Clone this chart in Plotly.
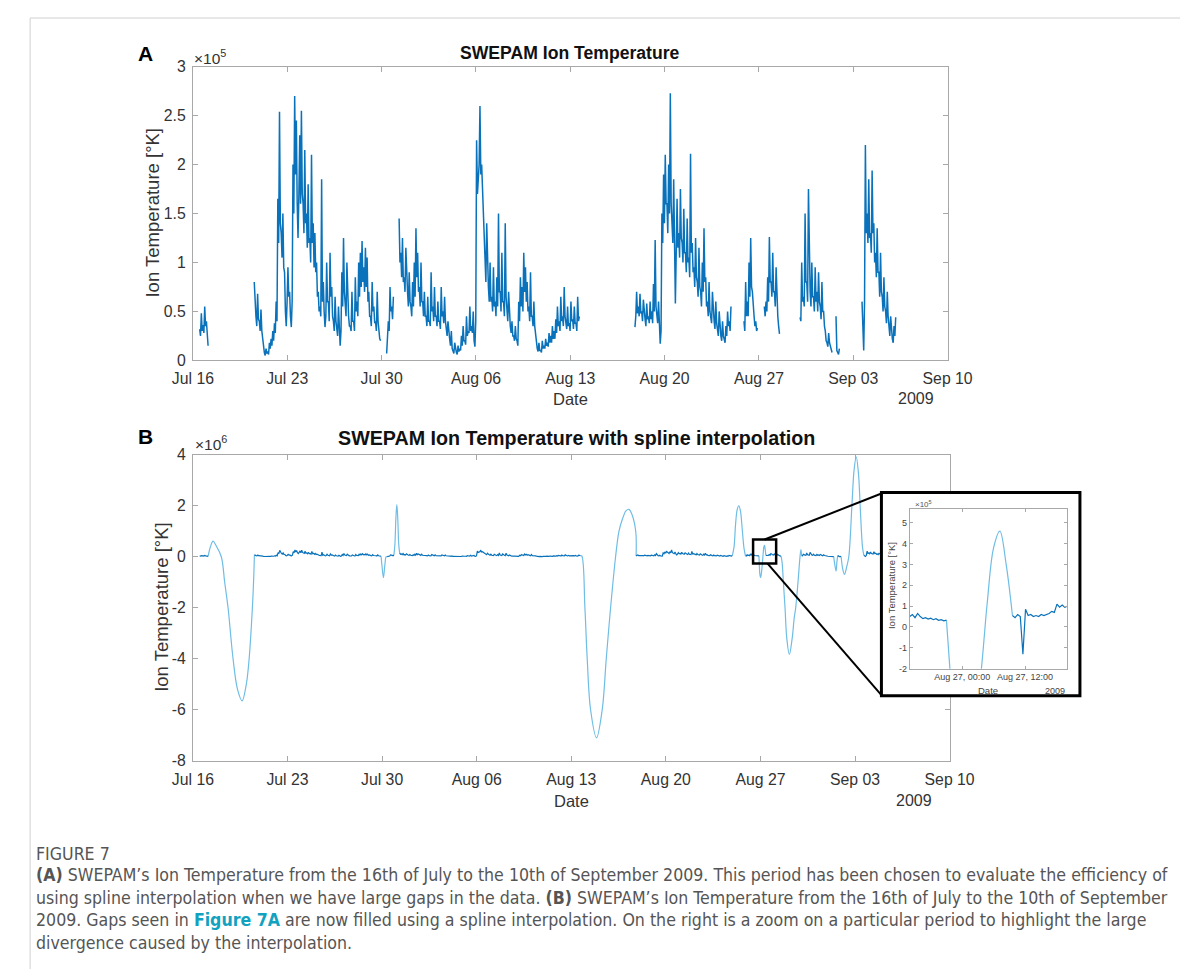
import datetime as dt
import plotly.graph_objects as go

# ---------------- data ----------------
# Time in days after 2009-07-16 00:00. Each 3-h sample has the top of the noisy
# band (hi) and its bottom (lo, read 1.5 h later).
STEP_DAYS = 0.125

# Ion temperature, thousands of K
seg1_start = 0.5
seg1_hi = [32, 48, 36, 55, 40, 15]
seg1_lo = [25, 30, 28, 35, 22, 12]

seg2_start = 4.55
seg2_hi = [80, 45, 68, 40,
           52, 22, 8, 12, 9, 18, 22, 30,
           38, 60, 165, 254, 130, 150, 90, 35,
           95, 70, 34, 200, 270, 245, 125, 230,
           255, 160, 215, 150, 180, 125, 210, 140,
           130, 100, 70, 55, 185, 80, 34, 100,
           60, 110, 75, 40, 65, 30, 55, 15,
           90, 125, 60, 100, 45, 35, 70, 40,
           85, 60, 100, 110, 122, 95, 115, 105,
           70, 45, 80, 55, 40, 70, 30, 20]
seg2_lo = [50, 35, 42, 30,
           30, 10, 5, 7, 6, 12, 15, 20,
           28, 40, 120, 140, 105, 95, 50, 60,
           65, 45, 60, 150, 190, 160, 170, 160,
           170, 130, 140, 115, 120, 100, 120, 95,
           90, 65, 50, 45, 60, 50, 45, 60,
           40, 65, 45, 30, 40, 25, 30, 30,
           55, 70, 45, 55, 35, 30, 40, 30,
           50, 45, 65, 75, 80, 70, 75, 60,
           45, 35, 50, 38, 30, 40, 22, 18]

seg3_start = 14.375
seg3_hi = [7, 40, 75, 55, 65]
seg3_lo = [20, 30, 50, 42, 45]

seg4_start = 15.3
seg4_hi = [145, 110, 125, 85, 115, 70, 90, 55, 80, 100,
           135, 110, 75, 100, 60, 70, 45, 65, 40, 90,
           55, 75, 45, 60, 40, 75, 50, 65, 30, 40,
           22, 30, 10, 18, 8, 15, 12, 25, 35, 20,
           45, 30, 55, 35, 50, 14, 225, 185, 260, 200,
           160, 110, 140, 75, 100, 65, 95, 60, 85, 150,
           70, 110, 60, 140, 55, 70, 35, 40, 25, 35,
           20, 60, 85, 75, 110, 95, 80, 55, 90, 45,
           60, 25, 12, 18, 10, 20, 15, 22, 18, 28,
           25, 35, 30, 42, 55, 40, 65, 45, 75, 40,
           55, 38, 60, 42, 55, 38, 65, 45]
seg4_lo = [100, 85, 80, 70, 75, 55, 60, 45, 55, 65,
           85, 70, 55, 60, 45, 45, 35, 40, 35, 50,
           40, 45, 35, 40, 32, 45, 38, 40, 25, 28,
           15, 12, 7, 9, 6, 9, 10, 15, 20, 16,
           25, 28, 30, 28, 20, 40, 170, 200, 190, 175,
           120, 80, 85, 60, 60, 50, 55, 45, 55, 70,
           50, 60, 45, 65, 40, 40, 28, 25, 20, 22,
           15, 40, 55, 50, 70, 60, 50, 40, 45, 35,
           35, 15, 9, 10, 8, 12, 12, 15, 14, 18,
           18, 22, 22, 28, 35, 30, 40, 35, 45, 32,
           35, 30, 40, 32, 38, 30, 40, 33]

seg5_start = 32.8
seg5_hi = [34, 70, 55, 68, 50, 62, 42, 58, 45, 60,
           50, 78, 123, 45, 60, 17, 150, 190, 210, 160,
           200, 273, 145, 185, 58, 165, 130, 175, 120, 155,
           110, 145, 105, 211, 120, 95, 125, 80, 115, 70,
           100, 135, 85, 60, 80, 45, 70, 40, 60, 30,
           50, 25, 40, 20, 35, 50, 40, 55]
seg5_lo = [45, 48, 45, 48, 40, 45, 35, 42, 38, 42,
           38, 50, 55, 38, 35, 30, 120, 140, 160, 130,
           150, 160, 120, 130, 110, 115, 105, 125, 100, 110,
           90, 100, 85, 110, 90, 75, 85, 65, 75, 55,
           70, 80, 55, 45, 50, 38, 45, 32, 38, 25,
           30, 20, 25, 18, 25, 35, 30, 40]

seg6_start = 40.89
seg6_hi = [40, 80, 60, 100, 125, 70, 45, 40, 33]
seg6_lo = [30, 45, 45, 65, 75, 50, 35, 30, 30]

seg7_start = 42.4
seg7_hi = [55, 60, 85, 126, 80, 110, 70, 95, 45, 27]
seg7_lo = [45, 50, 60, 80, 65, 70, 55, 60, 35, 25]

seg8_start = 45.05
seg8_hi = [44, 100, 65, 150, 80, 175, 70, 100, 65, 95,
           70, 90, 55, 80, 50, 30, 18, 28, 15, 8]
seg8_lo = [40, 60, 55, 80, 60, 85, 55, 65, 50, 60,
           50, 60, 42, 50, 35, 20, 14, 18, 10, 6]

seg8b_start = 47.72
seg8b_hi = [45, 8, 12]
seg8b_lo = [10, 6, 8]

seg9_start = 49.65
seg9_hi = [60, 10, 220, 150, 185, 130, 194, 140, 110, 135,
           90, 110, 65, 85, 50, 70, 30, 45, 22, 35, 44]
seg9_lo = [15, 60, 130, 120, 125, 110, 130, 100, 85, 90,
           65, 70, 50, 55, 38, 45, 25, 28, 18, 25, 30]

# Spline-filled gaps (panel B), interior knots: day, value in millions of K
gap_a_days = [1.3, 1.49, 1.7, 2.1, 2.35, 2.6, 2.97, 3.3, 3.64, 3.95, 4.16, 4.4, 4.5]
gap_a_MK = [0.4, 0.61, 0.45, 0.0, -1.0, -2.0, -4.0, -5.2, -5.65, -5.0, -4.0, -2.0, -0.8]
gap_b_days = [14.0, 14.1, 14.2, 14.3]
gap_b_MK = [-0.4, -0.82, -0.35, 0.0]
gap_c_days = [14.95, 15.02, 15.09, 15.16, 15.23]
gap_c_MK = [0.5, 1.5, 2.05, 1.5, 0.5]
gap_d_days = [28.78, 29.01, 29.18, 29.43, 29.87, 30.29, 30.59, 30.91, 31.28, 31.53,
              31.8, 32.05, 32.27, 32.5, 32.77]
gap_d_MK = [0.03, -2.0, -4.0, -6.0, -7.1, -6.0, -4.0, -2.0, 0.0, 1.0,
            1.5, 1.8, 1.86, 1.65, 1.0]
gap_e_days = [40.05, 40.15, 40.28, 40.4, 40.52, 40.65, 40.78]
gap_e_MK = [0.4, 1.2, 1.85, 2.0, 1.8, 1.1, 0.35]
gap_f_days = [41.92, 41.96, 42.01, 42.07, 42.153, 42.2, 42.25, 42.3, 42.35]
gap_f_MK = [-0.35, -0.7, -0.82, -0.65, -0.2, 0.12, 0.38, 0.46, 0.3]
gap_g_days = [43.6, 43.7, 43.82, 43.95, 44.14, 44.35, 44.5, 44.61, 44.78, 44.93, 45.0]
gap_g_MK = [-0.2, -1.0, -2.0, -3.2, -3.83, -3.2, -2.4, -2.0, -1.0, 0.0, 0.28]
gap_h_days = [47.5, 47.6, 47.66]
gap_h_MK = [-0.3, -0.56, -0.2]
gap_i_days = [48.1, 48.22, 48.38, 48.54, 48.77, 48.93, 49.09, 49.25, 49.4, 49.55]
gap_i_MK = [-0.5, -0.69, -0.4, 0.0, 2.0, 3.4, 3.92, 3.3, 1.8, 0.4]

# Inset (zoom on 26-27 Aug), 30-min samples, in 1e5 K
INSET_STEP = 1 / 48
inset_left_start = 41.5833
inset_left_e5 = [0.5, 0.6, 0.45, 0.65, 0.5, 0.4, 0.45, 0.38, 0.42, 0.35, 0.4, 0.32, 0.35, 0.3, 0.33]
inset_right_start = 42.4
inset_right_e5 = [0.55, 0.45, 0.6, 0.5, -1.3, 0.85, 0.55, 0.6, 0.5, 0.55, 0.5,
                  0.6, 0.55, 0.6, 0.65, 0.75, 0.7, 1.1, 0.95, 1.05, 0.95, 1.0]

week_ticks = ["2009-07-16", "2009-07-23", "2009-07-30", "2009-08-06", "2009-08-13",
              "2009-08-20", "2009-08-27", "2009-09-03", "2009-09-10"]
week_labels = ["Jul 16", "Jul 23", "Jul 30", "Aug 06", "Aug 13", "Aug 20", "Aug 27", "Sep 03", "Sep 10"]
top_yticks = [0, 0.5, 1, 1.5, 2, 2.5, 3]          # x 1e5
bot_yticks = [-8, -6, -4, -2, 0, 2, 4]            # x 1e6
inset_yticks = [-2, -1, 0, 1, 2, 3, 4, 5]         # x 1e5
inset_xticks = ["2009-08-27 00:00", "2009-08-27 12:00"]
inset_xlabels = ["Aug 27, 00:00", "Aug 27, 12:00"]

# ---------------- helpers ----------------
BASE = dt.datetime(2009, 7, 16)
W, H = 1197, 970
# where the figure paper lands in the photographed page (measured), plus a small correction
PX0, PW = 22.8 + 7.0, 1148.0
PY0, PH = 8.0 + 8.0, 952.0


def to_dt(d):
    return BASE + dt.timedelta(days=d)


def fx(px):
    return (px - PX0) / PW


def fy(py):
    return 1 - (py - PY0) / PH


SEGMENTS = [(seg1_start, seg1_hi, seg1_lo), (seg2_start, seg2_hi, seg2_lo),
            (seg3_start, seg3_hi, seg3_lo), (seg4_start, seg4_hi, seg4_lo),
            (seg5_start, seg5_hi, seg5_lo), (seg6_start, seg6_hi, seg6_lo),
            (seg7_start, seg7_hi, seg7_lo), (seg8_start, seg8_hi, seg8_lo),
            (seg8b_start, seg8b_hi, seg8b_lo), (seg9_start, seg9_hi, seg9_lo)]
GAPS = [(gap_a_days, gap_a_MK), (gap_b_days, gap_b_MK), (gap_c_days, gap_c_MK),
        (gap_d_days, gap_d_MK), (gap_e_days, gap_e_MK), (gap_f_days, gap_f_MK),
        (gap_g_days, gap_g_MK), (gap_h_days, gap_h_MK), (gap_i_days, gap_i_MK)]

data_x, data_y = [], []
seg_ends = []
for start, hi, lo in SEGMENTS:
    days, vals = [], []
    for i in range(len(hi)):
        days += [start + i * STEP_DAYS]
        vals += [hi[i]]
        if i < len(hi) - 1:
            days += [start + (i + 0.5) * STEP_DAYS]
            vals += [lo[i]]
    data_x += [to_dt(d) for d in days] + [None]
    data_y += [v * 1e3 for v in vals] + [None]
    seg_ends.append(((days[0], vals[0] * 1e3), (days[-1], vals[-1] * 1e3)))

spl_x, spl_y = [], []
for k, (gd, gv) in enumerate(GAPS):
    (d0, v0) = seg_ends[k][1]
    (d1, v1) = seg_ends[k + 1][0]
    xs = [d0] + list(gd) + [d1]
    ys = [v0] + [v * 1e6 for v in gv] + [v1]
    spl_x += [to_dt(d) for d in xs] + [None]
    spl_y += ys + [None]

BLUE = "#0A72BA"
LIGHT = "#6FBDE5"
FONT = "Liberation Sans, Arial, sans-serif"
TICKC = "#333333"
AXC = "#A8A8A8"

fig = go.Figure()

# panel A
fig.add_trace(go.Scatter(x=data_x, y=data_y, mode="lines", line=dict(color=BLUE, width=1.5),
                         connectgaps=False, xaxis="x", yaxis="y", hoverinfo="skip"))
# panel B
fig.add_trace(go.Scatter(x=spl_x, y=spl_y, mode="lines", line=dict(color=LIGHT, width=1.2, shape="spline"),
                         connectgaps=False, xaxis="x2", yaxis="y2", hoverinfo="skip"))
fig.add_trace(go.Scatter(x=data_x, y=data_y, mode="lines", line=dict(color=BLUE, width=1.2),
                         connectgaps=False, xaxis="x2", yaxis="y2", hoverinfo="skip"))
# inset white panel
fig.add_trace(go.Scatter(x=[0, 1, 1, 0, 0], y=[0, 0, 1, 1, 0], mode="lines", fill="toself",
                         fillcolor="white", line=dict(width=0, color="white"),
                         xaxis="x3", yaxis="y3", hoverinfo="skip"))
# inset curves
il_days = [inset_left_start + i * INSET_STEP for i in range(len(inset_left_e5))]
ir_days = [inset_right_start + i * INSET_STEP for i in range(len(inset_right_e5))]
ins_spl_x = [il_days[-1]] + gap_f_days + [ir_days[0]]
ins_spl_y = [inset_left_e5[-1] * 1e5] + [v * 1e6 for v in gap_f_MK] + [inset_right_e5[0] * 1e5]
fig.add_trace(go.Scatter(x=[to_dt(d) for d in ins_spl_x], y=ins_spl_y, mode="lines",
                         line=dict(color=LIGHT, width=1.2, shape="spline"),
                         xaxis="x4", yaxis="y4", hoverinfo="skip"))
fig.add_trace(go.Scatter(x=[to_dt(d) for d in il_days], y=[v * 1e5 for v in inset_left_e5], mode="lines",
                         line=dict(color=BLUE, width=1.2), xaxis="x4", yaxis="y4", hoverinfo="skip"))
fig.add_trace(go.Scatter(x=[to_dt(d) for d in ir_days], y=[v * 1e5 for v in inset_right_e5], mode="lines",
                         line=dict(color=BLUE, width=1.2), xaxis="x4", yaxis="y4", hoverinfo="skip"))

axis_common = dict(showgrid=False, zeroline=False, showline=True, linecolor=AXC, linewidth=1,
                   mirror="ticks", ticks="inside", ticklen=5, tickcolor=AXC, tickwidth=1,
                   tickfont=dict(family=FONT, size=15.8, color=TICKC))

fig.update_layout(
    width=W, height=H, autosize=False, margin=dict(l=0, r=0, t=0, b=0, pad=0), showlegend=False,
    paper_bgcolor="white", plot_bgcolor="rgba(0,0,0,0)",
    font=dict(family=FONT, color=TICKC),
    xaxis=dict(axis_common, domain=[fx(193.3), fx(946)], anchor="y", type="date",
               range=["2009-07-16", "2009-09-10"], tickvals=week_ticks, ticktext=week_labels,
               ticklabelstandoff=4),
    yaxis=dict(axis_common, domain=[fy(360), fy(66.7)], anchor="x", range=[0, 3e5],
               tickvals=[v * 1e5 for v in top_yticks], ticktext=[f"{v:g}" for v in top_yticks],
               ticklabelstandoff=3),
    xaxis2=dict(axis_common, domain=[fx(193.3), fx(948)], anchor="y2", type="date",
                range=["2009-07-16", "2009-09-10"], tickvals=week_ticks, ticktext=week_labels,
                ticklabelstandoff=4),
    yaxis2=dict(axis_common, domain=[fy(760), fy(454.3)], anchor="x2", range=[-8e6, 4e6],
                tickvals=[v * 1e6 for v in bot_yticks], ticktext=[f"{v:g}" for v in bot_yticks],
                ticklabelstandoff=3),
    xaxis3=dict(domain=[fx(880), fx(1078)], anchor="y3", range=[0, 1], visible=False, fixedrange=True),
    yaxis3=dict(domain=[fy(695), fy(492)], anchor="x3", range=[0, 1], visible=False, fixedrange=True),
    xaxis4=dict(axis_common, domain=[fx(908.3), fx(1065)], anchor="y4", type="date",
                range=["2009-08-26 14:00", "2009-08-27 20:00"], tickvals=inset_xticks, ticktext=inset_xlabels,
                ticklen=3, tickfont=dict(family=FONT, size=9, color="#444")),
    yaxis4=dict(axis_common, domain=[fy(668), fy(508.3)], anchor="x4", range=[-2e5, 5.67e5],
                tickvals=[v * 1e5 for v in inset_yticks], ticktext=[f"{v:g}" for v in inset_yticks],
                ticklen=3, tickfont=dict(family=FONT, size=9, color="#444")),
)


def ann(text, x, y, size, color=TICKC, bold=False, xanchor="center", angle=0, yanchor="middle"):
    t = f"<b>{text}</b>" if bold else text
    fig.add_annotation(text=t, x=fx(x), y=fy(y), xref="paper", yref="paper", showarrow=False,
                       xanchor=xanchor, yanchor=yanchor, textangle=angle,
                       font=dict(family=FONT, size=size, color=color))


# panel labels & titles
ann("A", 146, 53, 21, "black", bold=True)
ann("B", 146, 436, 21, "black", bold=True)
ann("SWEPAM Ion Temperature", 569.5, 53, 17.6, "#111", bold=True)
ann("SWEPAM Ion Temperature with spline interpolation", 575.5, 438, 19.7, "#111", bold=True)
ann("Ion Temperature [°K]", 153.3, 212.5, 18.5, angle=-90)
ann("Ion Temperature [°K]", 161.7, 606, 18.5, angle=-90)
ann("×10<sup>5</sup>", 192, 57, 15.5, xanchor="left")
ann("×10<sup>6</sup>", 193, 443, 15.5, xanchor="left")
ann("Date", 569.5, 398.5, 16.5)
ann("Date", 570.5, 800, 16.5)
ann("2009", 914.5, 398.5, 16)
ann("2009", 912.5, 800, 16)
# inset texts
ann("×10<sup>5</sup>", 911, 503, 8, "#555", xanchor="left")
ann("Ion Temperature [°K]", 890, 585, 9.5, "#444", angle=-90)
ann("Date", 986.5, 690, 9.5, "#444")
ann("2009", 1053, 690, 9, "#444")

# caption (kept just right of the page frame line)
CAP_FONT = "Liberation Sans Narrow, Arial Narrow, DejaVu Sans Condensed, sans-serif"
CAP_C = "#555555"
cap_lines = [
    (853, "FIGURE 7"),
    (874, "<b>(A)</b> SWEPAM’s Ion Temperature from the 16th of July to the 10th of September 2009. "
          "This period has been chosen to evaluate the efficiency of"),
    (897, "using spline interpolation when we have large gaps in the data. <b>(B)</b> SWEPAM’s Ion "
          "Temperature from the 16th of July to the 10th of September"),
    (919, "2009. Gaps seen in <span style='color:#12A2C0'><b>Figure 7A</b></span> are now filled using a "
          "spline interpolation. On the right is a zoom on a particular period to highlight the large"),
    (942, "divergence caused by the interpolation."),
]
CAP_X = 0.0045
for yy, txt in cap_lines:
    fig.add_annotation(text=txt, x=CAP_X, y=fy(yy), xref="paper", yref="paper", showarrow=False,
                       xanchor="left", yanchor="middle", align="left",
                       font=dict(family=CAP_FONT, size=17.6, color=CAP_C))

# shapes: page frame, inset frame, zoom box and connectors
FRAME_TOP = 0.9979
shapes = [
    dict(type="line", x0=0.001, y0=FRAME_TOP, x1=1.0, y1=FRAME_TOP, line=dict(color="#D0D0D0", width=1)),
    dict(type="line", x0=0.001, y0=FRAME_TOP, x1=0.001, y1=0.0, line=dict(color="#D0D0D0", width=1)),
    dict(type="rect", x0=fx(880), y0=fy(695), x1=fx(1078), y1=fy(492), line=dict(color="black", width=3)),
    dict(type="rect", x0=fx(752), y0=fy(563), x1=fx(775), y1=fy(539), line=dict(color="black", width=2.5)),
    dict(type="line", x0=fx(763.5), y0=fy(539), x1=fx(880), y1=fy(493), line=dict(color="black", width=2)),
    dict(type="line", x0=fx(766.5), y0=fy(563), x1=fx(880), y1=fy(694.5), line=dict(color="black", width=2)),
]
for s in shapes:
    s.update(xref="paper", yref="paper", layer="above")
    fig.add_shape(**s)

fig.write_html("out.html", config={"displayModeBar": False, "responsive": False})
